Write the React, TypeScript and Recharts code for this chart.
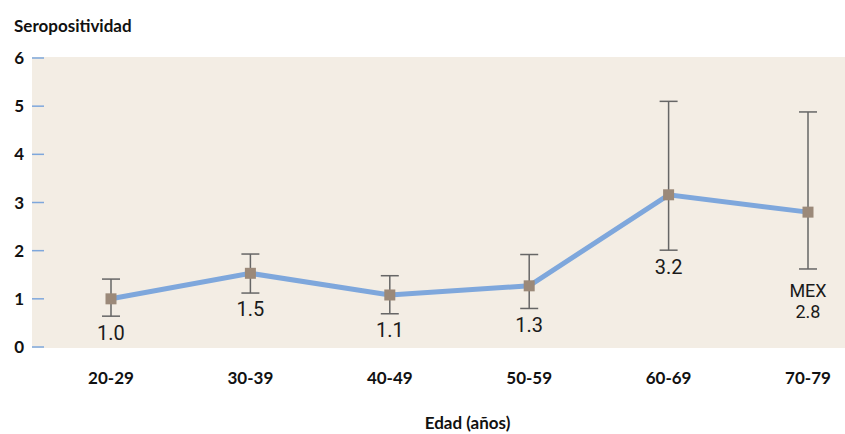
import React from 'react';
import { LineChart, Line, XAxis, YAxis, ErrorBar, LabelList, Label } from 'recharts';

const ageGroups = ['20-29', '30-39', '40-49', '50-59', '60-69', '70-79'];
const seropositivity = [1.0, 1.53, 1.08, 1.27, 3.16, 2.8];
const lowerBound = [0.64, 1.12, 0.69, 0.8, 2.01, 1.62];
const upperBound = [1.41, 1.93, 1.48, 1.92, 5.1, 4.88];
const pointLabels = ['1.0', '1.5', '1.1', '1.3', '3.2', 'MEX\n2.8'];
const yTicks = [0, 1, 2, 3, 4, 5, 6];

const data = ageGroups.map((cat, i) => ({
  cat,
  value: seropositivity[i],
  low: lowerBound[i],
  err: [seropositivity[i] - lowerBound[i], upperBound[i] - seropositivity[i]],
  label: pointLabels[i],
}));

const AXIS_FONT = "Lato, 'Liberation Sans Narrow', sans-serif";
const LABEL_FONT = "Roboto, 'Liberation Sans', sans-serif";

const SquareDot = (props: any) => {
  const { cx, cy, index } = props;
  if (cx == null || cy == null) return null;
  return <rect key={`dot-${index}`} x={cx - 5.5} y={cy - 5.5} width={11} height={11} fill="#9B8979" />;
};

// value label drawn under the lower whisker
const PointLabel = (props: any) => {
  const { x, y, value, index } = props;
  const lines = String(value).split('\n');
  const top = y + (lines.length > 1 ? 15 : 9);
  return (
    <g key={`lbl-${index}`}>
      {lines.map((ln, i) => (
        <text
          key={i}
          x={x}
          y={top + i * 21}
          dy="0.72em"
          textAnchor="middle"
          fontFamily={LABEL_FONT}
          fontSize={lines.length > 1 ? 18 : 20}
          fill="#1a1a1a"
        >
          {ln}
        </text>
      ))}
    </g>
  );
};

const axisText = { fontFamily: AXIS_FONT, fontWeight: 'bold', fontSize: 17, fill: '#111' };

export default function App() {
  return (
    <div style={{ position: 'absolute', left: 0, top: 0, width: 845, height: 434, background: '#fff' }}>
      <div
        style={{
          position: 'absolute',
          left: 32,
          top: 57,
          width: 813,
          height: 291,
          background: '#F3EDE4',
        }}
      />
      <div
        style={{
          position: 'absolute',
          left: 14,
          top: 15,
          fontFamily: AXIS_FONT,
          fontWeight: 'bold',
          fontSize: 17,
          color: '#111',
        }}
      >
        Seropositividad
      </div>
      <LineChart
        width={845}
        height={434}
        data={data}
        margin={{ top: 58, right: 0, bottom: 0, left: 0 }}
        style={{ position: 'absolute', left: 0, top: 0 }}
      >
        <XAxis
          dataKey="cat"
          height={87}
          axisLine={false}
          tickLine={false}
          tickSize={0}
          tickMargin={25}
          padding={{ left: 67, right: 37 }}
          tick={axisText}
        >
          <Label value="Edad (años)" position="insideBottom" offset={5} dx={23} style={axisText} />
        </XAxis>
        <YAxis
          width={44}
          domain={[0, 6]}
          ticks={yTicks}
          axisLine={false}
          tickSize={12}
          tickMargin={8}
          tickLine={{ stroke: '#7EA7DC', strokeWidth: 1.5 }}
          tick={axisText}
        />
        <Line
          dataKey="low"
          stroke="none"
          dot={false}
          activeDot={false}
          isAnimationActive={false}
        >
          <LabelList dataKey="label" content={PointLabel} />
        </Line>
        <Line
          dataKey="value"
          stroke="#7EA7DC"
          strokeWidth={5}
          dot={false}
          activeDot={false}
          isAnimationActive={false}
        >
          <ErrorBar dataKey="err" direction="y" width={9} stroke="#666" strokeWidth={1.5} />
        </Line>
        <Line
          dataKey="value"
          stroke="none"
          dot={SquareDot}
          activeDot={false}
          isAnimationActive={false}
        />
      </LineChart>
    </div>
  );
}
